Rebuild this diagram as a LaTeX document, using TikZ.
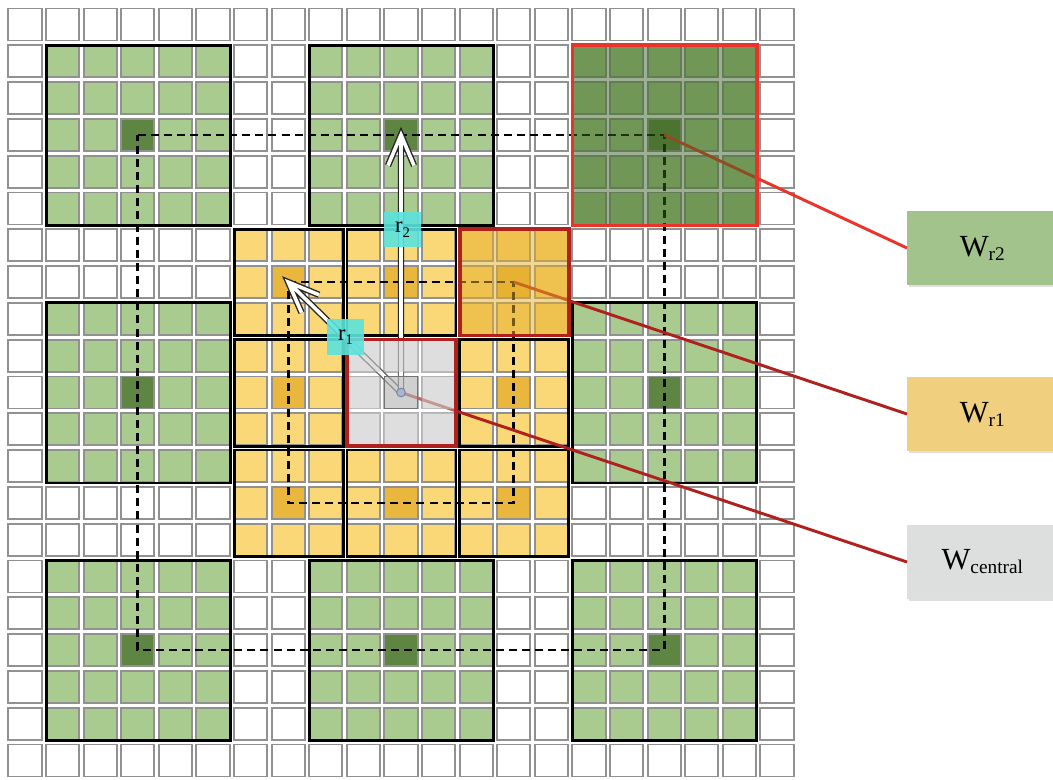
\documentclass[tikz,border=0pt]{standalone}
\usepackage{fontspec}
\setmainfont{Liberation Serif}
\usetikzlibrary{calc,shadows}

\definecolor{lgreen}{HTML}{A9CB8F}
\definecolor{dgreen}{HTML}{5E8541}
\definecolor{lyellow}{HTML}{FAD878}
\definecolor{dyellow}{HTML}{E9B63E}
\definecolor{ovgreen}{HTML}{3A6420}
\definecolor{ovyellow}{HTML}{E6AE28}
\definecolor{ovgray}{HTML}{C4C4C4}
\definecolor{brightred}{HTML}{E8342A}
\definecolor{darkred}{HTML}{B0201C}
\definecolor{cyanlab}{HTML}{5CE3DC}
\definecolor{boxgreen}{HTML}{A2C38B}
\definecolor{boxyellow}{HTML}{F0CF7E}
\definecolor{boxgray}{HTML}{DDDEDE}
\definecolor{dotfill}{HTML}{AAB6CE}
\definecolor{dotdraw}{HTML}{7585A5}

\newcommand{\gcell}[3]{\draw[cellst,fill=#3] ({7.4+37.6*(#1)+1},{7.5+36.8*(#2)+1}) rectangle ++(33.2,32);}
\newcommand{\gfill}[3]{\path[#3] ({7.4+37.6*(#1)+1},{7.5+36.8*(#2)+1}) rectangle ++(33.2,32);}
\newcommand{\blockframe}[4]{\path[#4] ({7.4+37.6*(#1)+1.2},{7.5+36.8*(#2)+0.8}) rectangle ({7.4+37.6*((#1)+(#3))-2.6},{7.5+36.8*((#2)+(#3))-3});}
\newcommand{\cblock}[5]{%
  \foreach \ii in {1,...,#3}{\foreach \jj in {1,...,#3}{\gcell{#1+\ii-1}{#2+\jj-1}{#4}}}%
  \pgfmathsetmacro\cmid{(#3-1)/2}%
  \gcell{#1+\cmid}{#2+\cmid}{#5}}

\begin{document}
\begin{tikzpicture}[x=0.75pt,y=-0.75pt,
  cellst/.style={draw=black!43,line width=1.45pt},
  frame/.style={draw=black,line width=2.1pt},
  redframe/.style={line width=2.6pt},
  dashline/.style={draw=black,line width=2pt,dash pattern=on 6pt off 3.8pt},
  hollow/.style={draw=black!85,line width=1.05pt,double=white,double distance=2.7pt,line join=miter,miter limit=10},
  conn/.style={line width=2.2pt},
  wbox/.style={anchor=west,minimum width=112.5pt,minimum height=55.5pt,inner sep=0pt,
    drop shadow={shadow xshift=1.2pt,shadow yshift=-1.2pt,opacity=0.25}},
  rlab/.style={fill=cyanlab,fill opacity=0.9,text opacity=1,minimum width=27.5pt,minimum height=26.5pt,inner sep=0pt}]

\useasboundingbox (0,0) rectangle (1053,779);
\clip (0,0) rectangle (1053,779);

% base grid
\foreach \i in {0,...,20}{\foreach \j in {0,...,20}{\gcell{\i}{\j}{white}}}

% green 5x5 blocks
\foreach \c/\r in {1/1,8/1,15/1,1/8,15/8,1/15,8/15,15/15}{\cblock{\c}{\r}{5}{lgreen}{dgreen}\blockframe{\c}{\r}{5}{frame}}

% yellow 3x3 blocks
\foreach \c/\r in {6/6,9/6,12/6,6/9,12/9,6/12,9/12,12/12}{\cblock{\c}{\r}{3}{lyellow}{dyellow}\blockframe{\c}{\r}{3}{frame}}

% cell centres
\foreach \c/\r in {3/3,17/3,17/17,3/17,7/7,13/7,13/13,7/13,10/3,10/10}{\coordinate (c\c r\r) at ({7.4+37.6*\c+17.6},{7.5+36.8*\r+17});}

% dashed squares
\draw[dashline] (c3r3) -- (c17r3) -- (c17r17) -- (c3r17) -- cycle;
\draw[dashline] (c7r7) -- (c13r7) -- (c13r13) -- (c7r13) -- cycle;

% hollow arrows r1 and r2
\draw[hollow] ($(c7r7)!25pt!22:(c10r10)$) -- (c7r7) -- ($(c7r7)!25pt!-22:(c10r10)$) (c7r7) -- (c10r10);
\draw[hollow] ($(c10r3)!25pt!23:(c10r10)$) -- (c10r3) -- ($(c10r3)!25pt!-23:(c10r10)$) (c10r3) -- (c10r10);

% legend boxes
\node[wbox,fill=boxgreen] (wr2) at (907,248) {\fontsize{23}{24}\selectfont W\raisebox{-3pt}{\fontsize{14.5}{14.5}\selectfont r2}};
\node[wbox,fill=boxyellow] (wr1) at (907,414) {\fontsize{23}{24}\selectfont W\raisebox{-3pt}{\fontsize{14.5}{14.5}\selectfont r1}};
\node[wbox,fill=boxgray] (wc) at (907,562) {\fontsize{23}{24}\selectfont W\raisebox{-3pt}{\fontsize{14.5}{14.5}\selectfont central}};

% connectors
\draw[conn,brightred] (c17r3) -- (wr2.west);
\draw[conn,darkred] (c13r7) -- (wr1.west);
\draw[conn,darkred] (c10r10) -- (wc.west);

% highlight overlays
\blockframe{15}{1}{5}{fill=ovgreen,fill opacity=0.5}
\blockframe{12}{6}{3}{fill=ovyellow,fill opacity=0.5}
\blockframe{9}{9}{3}{fill=white,fill opacity=0.3}
\foreach \ii in {9,10,11}{\foreach \jj in {9,10,11}{\gfill{\ii}{\jj}{fill=ovgray,fill opacity=0.55}}}
\gfill{10}{10}{fill=black,fill opacity=0.06,draw=black!55,line width=1.2pt}

% red frames
\blockframe{15}{1}{5}{redframe,draw=brightred}
\blockframe{12}{6}{3}{redframe,draw=darkred}
\blockframe{9}{9}{3}{redframe,draw=darkred}

% centre dot
\node[circle,fill=dotfill,draw=dotdraw,line width=0.7pt,minimum size=6.5pt,inner sep=0pt] (cdot) at (c10r10) {};

% r labels
\node[rlab] (lr2) at (402.5,229.5) {\fontsize{17}{17}\selectfont r\raisebox{-3.5pt}{\fontsize{11}{11}\selectfont 2}};
\node[rlab] (lr1) at (345.5,337) {\fontsize{17}{17}\selectfont r\raisebox{-3.5pt}{\fontsize{11}{11}\selectfont 1}};
\end{tikzpicture}
\end{document}
